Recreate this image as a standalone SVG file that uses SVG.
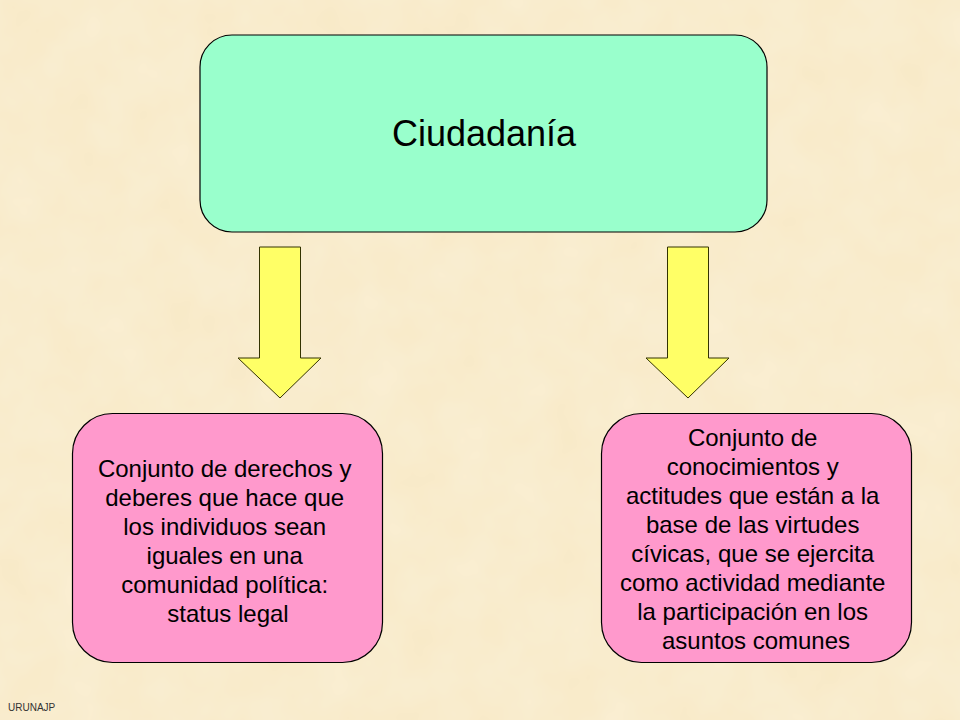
<svg xmlns="http://www.w3.org/2000/svg" width="960" height="720" viewBox="0 0 960 720">
<style>
.t{font-family:"Liberation Sans",Arial,sans-serif;fill:#000;text-anchor:middle}
.box{stroke:#000;stroke-width:1.2}
.arrow{fill:#FFFF66;stroke:#333300;stroke-width:1}
</style>
<defs>
<filter id="tex" x="0" y="0" width="100%" height="100%">
<feTurbulence type="fractalNoise" baseFrequency="0.02" numOctaves="3" seed="4"/>
<feColorMatrix type="matrix" values="0 0 0 0 0.99  0 0 0 0 0.96  0 0 0 0 0.86  0 0 0 0.35 0"/>
</filter>
</defs>
<rect width="960" height="720" fill="#F8E9C6"/>
<rect width="960" height="720" filter="url(#tex)"/>
<g id="ciudadania">
<rect class="box" x="200" y="35" width="567" height="197" rx="32" fill="#99FFCC"/>
<text class="t" x="484" y="146" font-size="36">Ciudadanía</text>
</g>
<g id="connectors">
<polygon class="arrow" points="259.5,247 300.5,247 300.5,358 321,358 280,398 238,358 259.5,358"/>
<polygon class="arrow" points="667.5,247 708.5,247 708.5,358 729,358 688,398 646,358 667.5,358"/>
</g>
<g id="status-legal">
<rect class="box" x="72.5" y="413.5" width="310" height="249" rx="40" fill="#FF99CC"/>
<text class="t" font-size="24">
<tspan x="228" y="477">Conjunto de derechos y</tspan>
<tspan x="228" y="506">deberes que hace que</tspan>
<tspan x="228" y="535">los individuos sean</tspan>
<tspan x="228" y="564">iguales en una</tspan>
<tspan x="228" y="593">comunidad política:</tspan>
<tspan x="228" y="622">status legal</tspan>
</text>
</g>
<g id="virtudes-civicas">
<rect class="box" x="601.5" y="413.5" width="310" height="249" rx="40" fill="#FF99CC"/>
<text class="t" font-size="24">
<tspan x="756" y="446">Conjunto de</tspan>
<tspan x="756" y="475">conocimientos y</tspan>
<tspan x="756" y="504">actitudes que están a la</tspan>
<tspan x="756" y="533">base de las virtudes</tspan>
<tspan x="756" y="562">cívicas, que se ejercita</tspan>
<tspan x="756" y="591">como actividad mediante</tspan>
<tspan x="756" y="620">la participación en los</tspan>
<tspan x="756" y="649">asuntos comunes</tspan>
</text>
</g>
<text x="8" y="711" font-family="Liberation Sans,Arial,sans-serif" font-size="10" fill="#333">URUNAJP</text>
</svg>
